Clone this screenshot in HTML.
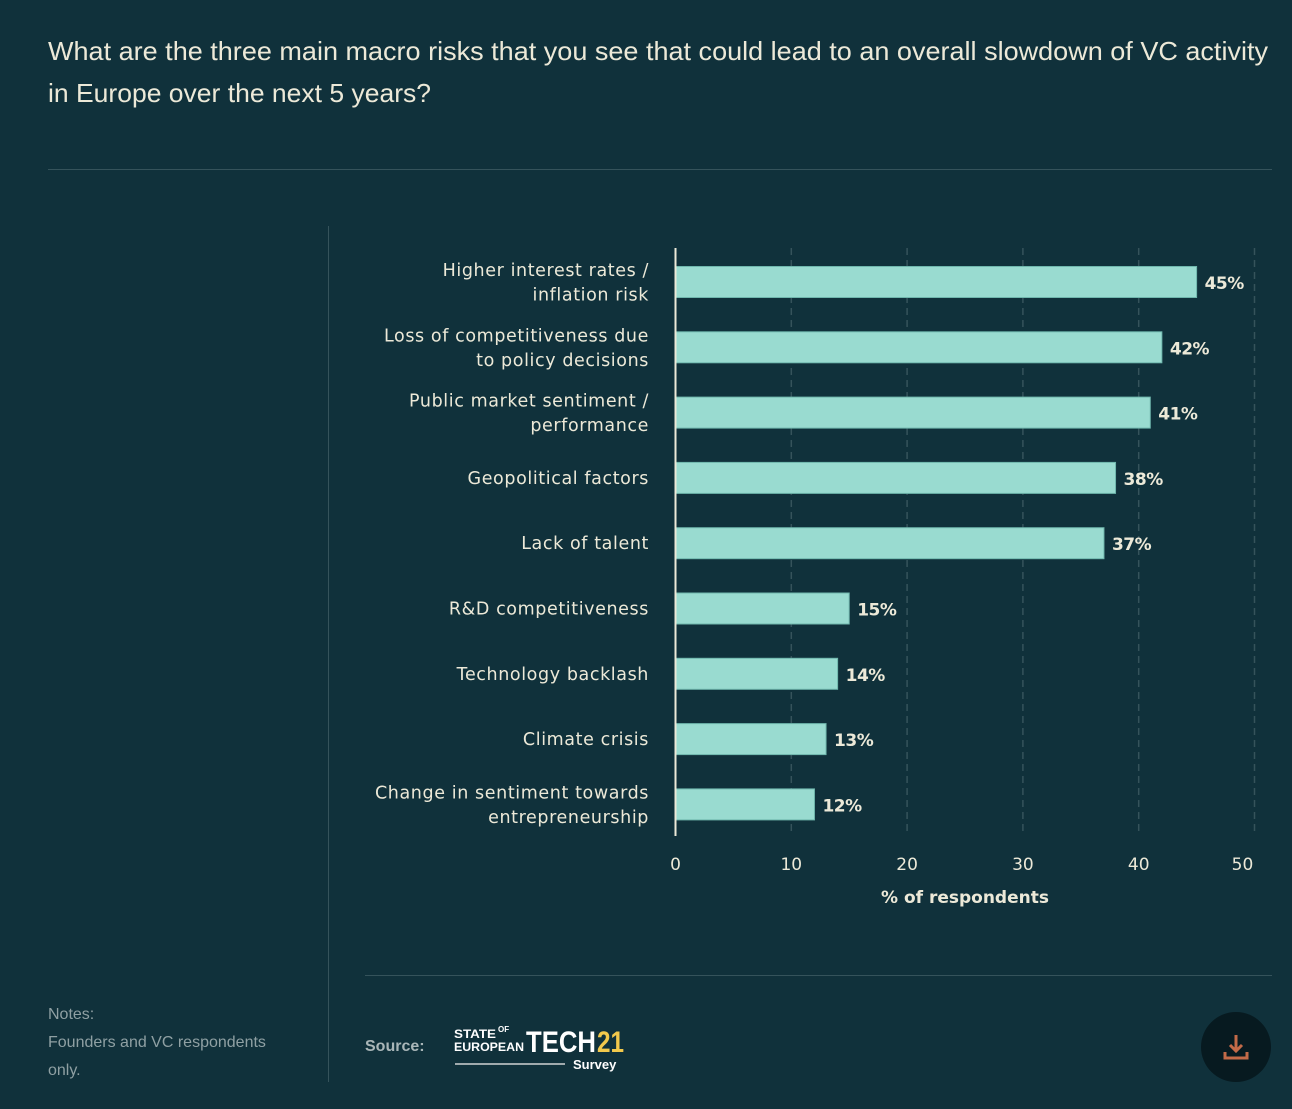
<!DOCTYPE html>
<html><head><meta charset="utf-8"><style>
html,body{margin:0;padding:0;background:#10313b;}
svg{display:block}
</style></head><body>
<svg id="chart" width="1292" height="1109" viewBox="0 0 1292 1109" xmlns="http://www.w3.org/2000/svg">
<rect width="1292" height="1109" fill="#10313b"/>
<g font-family="Liberation Sans, sans-serif" font-size="26" fill="#ece9d8">
<text x="48" y="60" textLength="1220" lengthAdjust="spacingAndGlyphs">What are the three main macro risks that you see that could lead to an overall slowdown of VC activity</text>
<text x="48" y="102" textLength="383" lengthAdjust="spacingAndGlyphs">in Europe over the next 5 years?</text>
</g>
<line x1="48" y1="169.5" x2="1272" y2="169.5" stroke="#35535b" stroke-width="1"/>
<line x1="328.5" y1="226" x2="328.5" y2="1082" stroke="#35535b" stroke-width="1"/>
<line x1="365" y1="975.5" x2="1272" y2="975.5" stroke="#35535b" stroke-width="1"/>
<g id="grid"></g>
<g id="bars"></g>
<g id="labels"></g>
<g id="ticks"></g>
<line x1="675.5" y1="248" x2="675.5" y2="836" stroke="#ece9d8" stroke-width="2"/>
<text x="965" y="903" text-anchor="middle" font-family="DejaVu Sans, sans-serif" font-size="17" font-weight="bold" fill="#ece9d8">% of respondents</text>
<g font-family="Liberation Sans, sans-serif" font-size="16" fill="#8fa0a3">
<text x="48" y="1019">Notes:</text>
<text x="48" y="1047">Founders and VC respondents</text>
<text x="48" y="1075">only.</text>
</g>
<text x="365" y="1051" font-family="Liberation Sans, sans-serif" font-size="16" font-weight="bold" fill="#a9b6b8">Source:</text>
<g font-family="Liberation Sans, sans-serif" font-weight="bold" fill="#ffffff">
<text x="454" y="1038" font-size="12" textLength="42" lengthAdjust="spacingAndGlyphs">STATE</text>
<text x="498" y="1032" font-size="8">OF</text>
<text x="454" y="1051" font-size="12" textLength="70" lengthAdjust="spacingAndGlyphs">EUROPEAN</text>
<text x="526" y="1052" font-size="30" textLength="70" lengthAdjust="spacingAndGlyphs">TECH</text>
<text x="597" y="1052" font-size="30" fill="#f2c94c" textLength="27" lengthAdjust="spacingAndGlyphs">21</text>
<line x1="455" y1="1064" x2="565" y2="1064" stroke="#a0aaad" stroke-width="2"/>
<text x="573" y="1069" font-size="13">Survey</text>
</g>
<g>
<circle cx="1236" cy="1047" r="35" fill="#071a20"/>
<path d="M1236 1035 v16 M1230 1045 l6 6 l6 -6 M1225 1052 v6 h22 v-6" stroke="#c26a48" stroke-width="3" fill="none"/>
</g>
</svg>
<script>
const categories = [
  ["Higher interest rates /","inflation risk"],
  ["Loss of competitiveness due","to policy decisions"],
  ["Public market sentiment /","performance"],
  ["Geopolitical factors"],
  ["Lack of talent"],
  ["R&D competitiveness"],
  ["Technology backlash"],
  ["Climate crisis"],
  ["Change in sentiment towards","entrepreneurship"]
];
const values = [45, 42, 41, 38, 37, 15, 14, 13, 12];
const tickValues = [0, 10, 20, 30, 40, 50];

const NS = "http://www.w3.org/2000/svg";
const x = v => 675.5 + v * (1254.5 - 675.5) / 50;
const yCenter = i => 282 + i * 65.3;
const barH = 31;
function mk(tag, attrs, parent){const e=document.createElementNS(NS,tag);for(const k in attrs)e.setAttribute(k,attrs[k]);parent.appendChild(e);return e;}
const grid=document.getElementById('grid'), bars=document.getElementById('bars'), labels=document.getElementById('labels'), ticks=document.getElementById('ticks');
tickValues.forEach(t=>{
  if(t>0){
    const l=mk('line',{x1:x(t),y1:248,x2:x(t),y2:836,stroke:'#35535b','stroke-width':1.5,'stroke-dasharray':'7 5'},grid);
    
    
  }
  const tx=mk('text',{x:t===50?x(t)-12:x(t),y:870,'text-anchor':'middle','font-family':'DejaVu Sans, sans-serif','font-size':17,fill:'#ece9d8'},ticks);
  tx.textContent=t;
  
  
});
values.forEach((v,i)=>{
  const cy=yCenter(i);
  const r=mk('rect',{x:676,y:cy-barH/2,width:x(v)-676,height:barH,fill:'#99dbd0',stroke:'#6fb7ad','stroke-width':1},bars);
  
  
  const vt=mk('text',{x:x(v)+8,y:cy+7,'font-family':'DejaVu Sans, sans-serif','font-size':17,'font-weight':'bold',fill:'#ece9d8','letter-spacing':'-0.5'},bars);
  vt.textContent=v+'%';
  
  
  const lines=categories[i];
  lines.forEach((s,j)=>{
    const yy = lines.length===1 ? cy+6 : cy-6+(j*24.5);
    const t=mk('text',{x:649,y:yy,'text-anchor':'end','font-family':'DejaVu Sans, sans-serif','font-size':17.5,fill:'#ece9d8','letter-spacing':'0.6'},labels);
    t.textContent=s;
    
    
  });
});
</script>
</body></html>
